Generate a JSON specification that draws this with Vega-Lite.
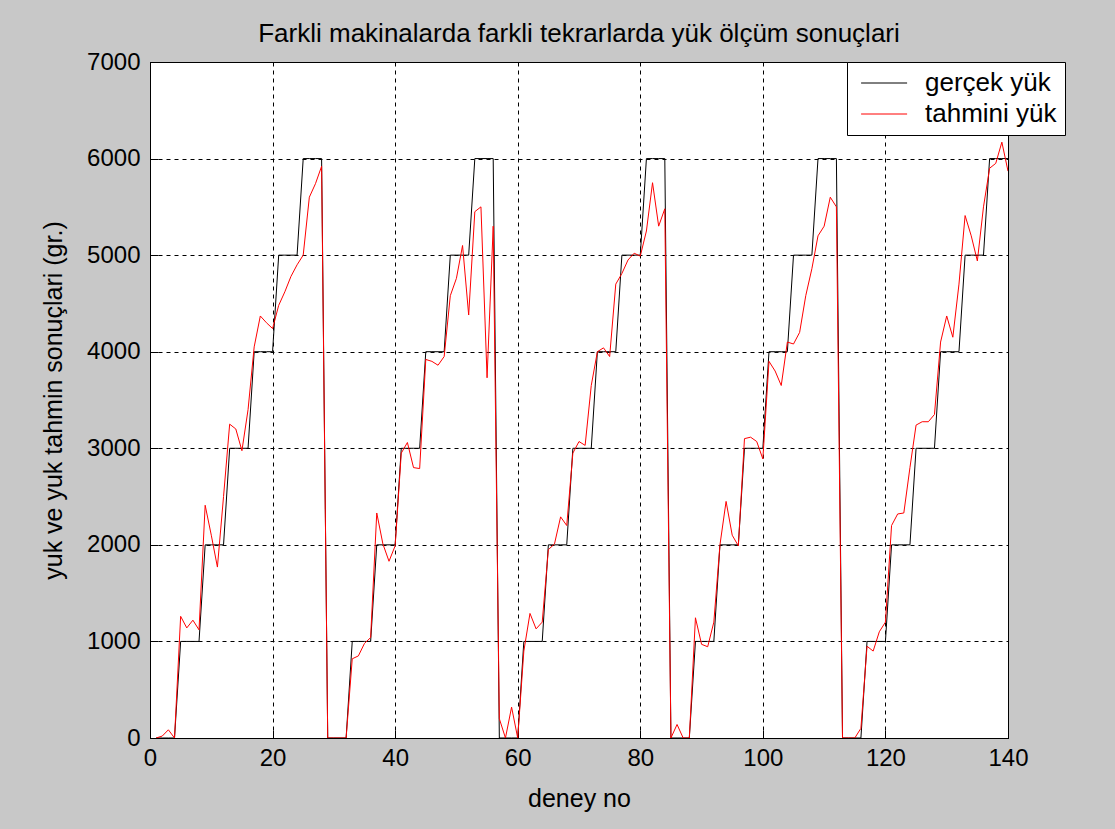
{
 "$schema": "https://vega.github.io/schema/vega-lite/v6.json",
 "width": 858,
 "height": 676,
 "autosize": {"type": "none"},
 "padding": {"left": 150, "top": 62, "right": 107, "bottom": 91},
 "background": "#c8c8c8",
 "config": {
  "font": "Liberation Sans",
  "view": {"fill": "white", "stroke": "black", "strokeWidth": 1}
 },
 "title": {"text": "Farkli makinalarda farkli tekrarlarda yük ölçüm sonuçlari", "fontSize": 26, "fontWeight": "normal", "color": "black", "offset": 3, "anchor": "middle", "font": "Liberation Sans"},
 "data": {"values": [
  {"deney":1,"gercek":0,"tahmini":0},{"deney":2,"gercek":0,"tahmini":20},{"deney":3,"gercek":0,"tahmini":85},{"deney":4,"gercek":0,"tahmini":0},
  {"deney":5,"gercek":1000,"tahmini":1260},{"deney":6,"gercek":1000,"tahmini":1140},{"deney":7,"gercek":1000,"tahmini":1220},{"deney":8,"gercek":1000,"tahmini":1120},
  {"deney":9,"gercek":2000,"tahmini":2410},{"deney":10,"gercek":2000,"tahmini":2100},{"deney":11,"gercek":2000,"tahmini":1770},{"deney":12,"gercek":2000,"tahmini":2500},
  {"deney":13,"gercek":3000,"tahmini":3250},{"deney":14,"gercek":3000,"tahmini":3200},{"deney":15,"gercek":3000,"tahmini":2975},{"deney":16,"gercek":3000,"tahmini":3400},
  {"deney":17,"gercek":4000,"tahmini":4050},{"deney":18,"gercek":4000,"tahmini":4370},{"deney":19,"gercek":4000,"tahmini":4300},{"deney":20,"gercek":4000,"tahmini":4240},
  {"deney":21,"gercek":5000,"tahmini":4480},{"deney":22,"gercek":5000,"tahmini":4620},{"deney":23,"gercek":5000,"tahmini":4780},{"deney":24,"gercek":5000,"tahmini":4900},
  {"deney":25,"gercek":6000,"tahmini":5000},{"deney":26,"gercek":6000,"tahmini":5600},{"deney":27,"gercek":6000,"tahmini":5740},{"deney":28,"gercek":6000,"tahmini":5920},
  {"deney":29,"gercek":0,"tahmini":0},{"deney":30,"gercek":0,"tahmini":0},{"deney":31,"gercek":0,"tahmini":0},{"deney":32,"gercek":0,"tahmini":0},
  {"deney":33,"gercek":1000,"tahmini":820},{"deney":34,"gercek":1000,"tahmini":850},{"deney":35,"gercek":1000,"tahmini":980},{"deney":36,"gercek":1000,"tahmini":1040},
  {"deney":37,"gercek":2000,"tahmini":2330},{"deney":38,"gercek":2000,"tahmini":2010},{"deney":39,"gercek":2000,"tahmini":1830},{"deney":40,"gercek":2000,"tahmini":1990},
  {"deney":41,"gercek":3000,"tahmini":2950},{"deney":42,"gercek":3000,"tahmini":3060},{"deney":43,"gercek":3000,"tahmini":2800},{"deney":44,"gercek":3000,"tahmini":2790},
  {"deney":45,"gercek":4000,"tahmini":3920},{"deney":46,"gercek":4000,"tahmini":3900},{"deney":47,"gercek":4000,"tahmini":3860},{"deney":48,"gercek":4000,"tahmini":3950},
  {"deney":49,"gercek":5000,"tahmini":4580},{"deney":50,"gercek":5000,"tahmini":4760},{"deney":51,"gercek":5000,"tahmini":5100},{"deney":52,"gercek":5000,"tahmini":4380},
  {"deney":53,"gercek":6000,"tahmini":5450},{"deney":54,"gercek":6000,"tahmini":5500},{"deney":55,"gercek":6000,"tahmini":3730},{"deney":56,"gercek":6000,"tahmini":5300},
  {"deney":57,"gercek":0,"tahmini":200},{"deney":58,"gercek":0,"tahmini":0},{"deney":59,"gercek":0,"tahmini":320},{"deney":60,"gercek":0,"tahmini":0},
  {"deney":61,"gercek":1000,"tahmini":900},{"deney":62,"gercek":1000,"tahmini":1290},{"deney":63,"gercek":1000,"tahmini":1130},{"deney":64,"gercek":1000,"tahmini":1200},
  {"deney":65,"gercek":2000,"tahmini":1950},{"deney":66,"gercek":2000,"tahmini":2010},{"deney":67,"gercek":2000,"tahmini":2290},{"deney":68,"gercek":2000,"tahmini":2200},
  {"deney":69,"gercek":3000,"tahmini":2950},{"deney":70,"gercek":3000,"tahmini":3070},{"deney":71,"gercek":3000,"tahmini":3030},{"deney":72,"gercek":3000,"tahmini":3650},
  {"deney":73,"gercek":4000,"tahmini":4000},{"deney":74,"gercek":4000,"tahmini":4040},{"deney":75,"gercek":4000,"tahmini":3950},{"deney":76,"gercek":4000,"tahmini":4700},
  {"deney":77,"gercek":5000,"tahmini":4810},{"deney":78,"gercek":5000,"tahmini":4950},{"deney":79,"gercek":5000,"tahmini":5020},{"deney":80,"gercek":5000,"tahmini":4990},
  {"deney":81,"gercek":6000,"tahmini":5250},{"deney":82,"gercek":6000,"tahmini":5750},{"deney":83,"gercek":6000,"tahmini":5300},{"deney":84,"gercek":6000,"tahmini":5480},
  {"deney":85,"gercek":0,"tahmini":0},{"deney":86,"gercek":0,"tahmini":140},{"deney":87,"gercek":0,"tahmini":0},{"deney":88,"gercek":0,"tahmini":0},
  {"deney":89,"gercek":1000,"tahmini":1245},{"deney":90,"gercek":1000,"tahmini":970},{"deney":91,"gercek":1000,"tahmini":945},{"deney":92,"gercek":1000,"tahmini":1200},
  {"deney":93,"gercek":2000,"tahmini":2000},{"deney":94,"gercek":2000,"tahmini":2450},{"deney":95,"gercek":2000,"tahmini":2100},{"deney":96,"gercek":2000,"tahmini":1990},
  {"deney":97,"gercek":3000,"tahmini":3100},{"deney":98,"gercek":3000,"tahmini":3115},{"deney":99,"gercek":3000,"tahmini":3070},{"deney":100,"gercek":3000,"tahmini":2890},
  {"deney":101,"gercek":4000,"tahmini":3900},{"deney":102,"gercek":4000,"tahmini":3800},{"deney":103,"gercek":4000,"tahmini":3650},{"deney":104,"gercek":4000,"tahmini":4100},
  {"deney":105,"gercek":5000,"tahmini":4080},{"deney":106,"gercek":5000,"tahmini":4200},{"deney":107,"gercek":5000,"tahmini":4580},{"deney":108,"gercek":5000,"tahmini":4860},
  {"deney":109,"gercek":6000,"tahmini":5200},{"deney":110,"gercek":6000,"tahmini":5300},{"deney":111,"gercek":6000,"tahmini":5600},{"deney":112,"gercek":6000,"tahmini":5500},
  {"deney":113,"gercek":0,"tahmini":0},{"deney":114,"gercek":0,"tahmini":0},{"deney":115,"gercek":0,"tahmini":0},{"deney":116,"gercek":0,"tahmini":100},
  {"deney":117,"gercek":1000,"tahmini":950},{"deney":118,"gercek":1000,"tahmini":900},{"deney":119,"gercek":1000,"tahmini":1100},{"deney":120,"gercek":1000,"tahmini":1200},
  {"deney":121,"gercek":2000,"tahmini":2200},{"deney":122,"gercek":2000,"tahmini":2320},{"deney":123,"gercek":2000,"tahmini":2330},{"deney":124,"gercek":2000,"tahmini":2800},
  {"deney":125,"gercek":3000,"tahmini":3240},{"deney":126,"gercek":3000,"tahmini":3275},{"deney":127,"gercek":3000,"tahmini":3275},{"deney":128,"gercek":3000,"tahmini":3350},
  {"deney":129,"gercek":4000,"tahmini":4100},{"deney":130,"gercek":4000,"tahmini":4370},{"deney":131,"gercek":4000,"tahmini":4150},{"deney":132,"gercek":4000,"tahmini":4700},
  {"deney":133,"gercek":5000,"tahmini":5410},{"deney":134,"gercek":5000,"tahmini":5200},{"deney":135,"gercek":5000,"tahmini":4940},{"deney":136,"gercek":5000,"tahmini":5500},
  {"deney":137,"gercek":6000,"tahmini":5900},{"deney":138,"gercek":6000,"tahmini":5950},{"deney":139,"gercek":6000,"tahmini":6170},{"deney":140,"gercek":6000,"tahmini":5870}
 ]},
 "transform": [{"fold": ["gercek", "tahmini"], "as": ["seri", "yuk"]}],
 "mark": {"type": "line", "strokeWidth": 1, "clip": true},
 "encoding": {
  "x": {
   "field": "deney", "type": "quantitative",
   "scale": {"domain": [0, 140], "nice": false, "zero": false},
   "axis": {
    "values": [0, 20, 40, 60, 80, 100, 120, 140],
    "title": "deney no", "titleFontSize": 25, "titleFontWeight": "normal", "titleColor": "black", "titlePadding": 16, "titleFont": "Liberation Sans",
    "labelFontSize": 24, "labelColor": "black", "labelPadding": 16, "labelFlush": false, "labelOverlap": false, "labelFont": "Liberation Sans",
    "ticks": true, "tickSize": -8, "tickColor": "black", "tickWidth": 1,
    "domainColor": "black", "domainWidth": 1,
    "grid": true, "gridColor": "black", "gridDash": [4, 4], "gridOpacity": 1, "gridWidth": 1
   }
  },
  "y": {
   "field": "yuk", "type": "quantitative",
   "scale": {"domain": [0, 7000], "nice": false},
   "axis": {
    "values": [0, 1000, 2000, 3000, 4000, 5000, 6000, 7000],
    "format": "d",
    "title": "yuk ve yuk tahmin sonuçlari (gr.)", "titleFontSize": 25, "titleFontWeight": "normal", "titleColor": "black", "titlePadding": 20, "titleFont": "Liberation Sans",
    "labelFontSize": 24, "labelColor": "black", "labelPadding": 18, "labelFlush": false, "labelOverlap": false, "labelFont": "Liberation Sans",
    "ticks": true, "tickSize": -8, "tickColor": "black", "tickWidth": 1,
    "domainColor": "black", "domainWidth": 1,
    "grid": true, "gridColor": "black", "gridDash": [4, 4], "gridOpacity": 1, "gridWidth": 1
   }
  },
  "color": {
   "field": "seri", "type": "nominal",
   "scale": {"domain": ["gercek", "tahmini"], "range": ["#000000", "#ff0000"]},
   "legend": {
    "orient": "none", "legendX": 697, "legendY": 0,
    "title": null,
    "labelExpr": "datum.label == 'gercek' ? 'gerçek yük' : 'tahmini yük'",
    "strokeColor": "black", "fillColor": "white", "padding": 8,
    "labelFontSize": 26, "labelColor": "black", "labelFont": "Liberation Sans", "labelOffset": 44,
    "symbolType": "M-0.6,0H3.4", "symbolSize": 529, "symbolStrokeWidth": 1,
    "rowPadding": 5
   }
  }
 }
}
